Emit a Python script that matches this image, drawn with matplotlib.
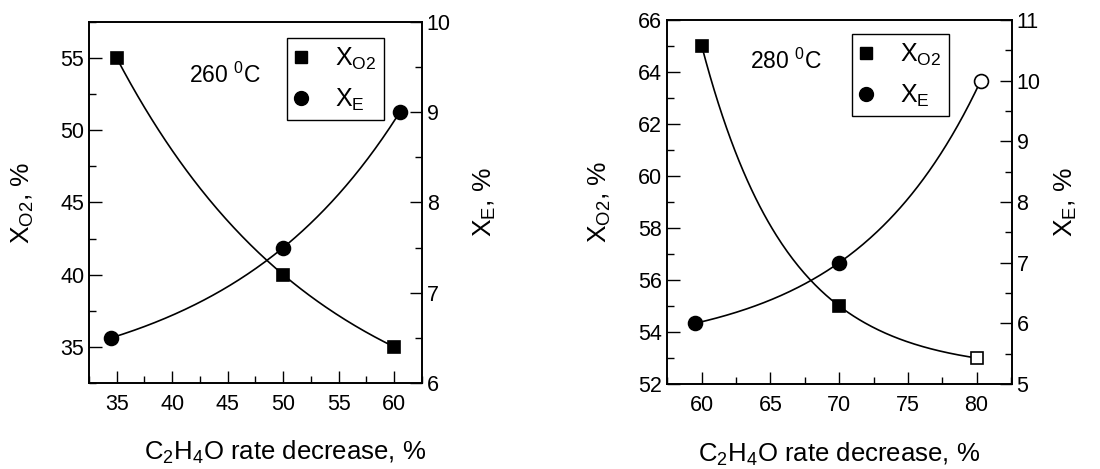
import numpy as np
import matplotlib
matplotlib.use("Agg")
import matplotlib.pyplot as plt
from matplotlib.ticker import MultipleLocator
from matplotlib.lines import Line2D

plt.rcParams['font.family'] = ['Liberation Sans', 'DejaVu Sans']
plt.rcParams['mathtext.fontset'] = 'custom'
plt.rcParams['mathtext.rm'] = 'Liberation Sans'
plt.rcParams['mathtext.it'] = 'Liberation Sans'

# ---- data: 260 C panel ----
x_o2_260 = [35, 50, 60]
y_o2_260 = [55, 40, 35]
x_e_260 = [34.5, 50, 60.5]
y_e_260 = [6.5, 7.5, 9.0]

# ---- data: 280 C panel ----
x_o2_280 = [60, 70, 80]
y_o2_280 = [65, 55, 53]
o2_280_open = [False, False, True]
x_e_280 = [59.5, 70, 80.3]
y_e_280 = [6.0, 7.0, 10.0]
e_280_open = [False, False, True]

temps = ["260 $^{0}$C", "280 $^{0}$C"]
xlabel = "C$_2$H$_4$O rate decrease, %"
ylabel_l = "X$_{\\mathregular{O2}}$, %"
ylabel_r = "X$_{\\mathregular{E}}$, %"


def fit_exp(x, y):
    x = np.asarray(x, float); y = np.asarray(y, float)
    best = None
    for k in np.linspace(-0.5, 0.5, 20001):
        if abs(k) < 1e-6:
            continue
        A = np.column_stack([np.ones_like(x), np.exp(k * (x - x.mean()))])
        coef, *_ = np.linalg.lstsq(A, y, rcond=None)
        r = np.sum((A @ coef - y) ** 2)
        if best is None or r < best[0]:
            best = (r, k, coef)
    _, k, coef = best
    xs = np.linspace(x.min(), x.max(), 200)
    return xs, coef[0] + coef[1] * np.exp(k * (xs - x.mean()))


def style(ax):
    ax.tick_params(direction='in', which='both', labelsize=15.5, top=False)
    ax.tick_params(which='major', length=9, width=1)
    ax.tick_params(which='minor', length=5, width=1)
    for s in ax.spines.values():
        s.set_linewidth(1.2)


fig = plt.figure(figsize=(11, 4.69), dpi=100)
axes_pos = [[0.0809, 0.1834, 0.3027, 0.7697], [0.6061, 0.1812, 0.3136, 0.7761]]
panels = [
    dict(xo=x_o2_260, yo=y_o2_260, oo=[False]*3, xe=x_e_260, ye=y_e_260, eo=[False]*3,
         xlim=(32.5, 62.5), ylim=(32.5, 57.5), y2lim=(6, 10), xmaj=5, xmin=2.5,
         ymaj=5, ymin=2.5, y2maj=1, y2min=0.5, tpos=(41.5, 53.8),
         leg=(0.595, 0.956), ylx=-0.16, y2lx=1.15, xlx=0.589),
    dict(xo=x_o2_280, yo=y_o2_280, oo=o2_280_open, xe=x_e_280, ye=y_e_280, eo=e_280_open,
         xlim=(57.45, 82.55), ylim=(52, 66), y2lim=(5, 11), xmaj=5, xmin=2.5,
         ymaj=2, ymin=1, y2maj=1, y2min=0.5, tpos=(63.5, 64.4),
         leg=(0.537, 0.962), ylx=-0.155, y2lx=1.12, xlx=0.5),
]

for i, p in enumerate(panels):
    ax = fig.add_axes(axes_pos[i])
    ax2 = ax.twinx()
    xs, ys = fit_exp(p['xo'], p['yo'])
    ax.plot(xs, ys, color='black', lw=1.2)
    xs2, ys2 = fit_exp(p['xe'], p['ye'])
    ax2.plot(xs2, ys2, color='black', lw=1.2)
    for xv, yv, op in zip(p['xo'], p['yo'], p['oo']):
        ax.plot(xv, yv, 's', ms=9, mec='black', mew=1.2,
                mfc='white' if op else 'black', zorder=5)
    for xv, yv, op in zip(p['xe'], p['ye'], p['eo']):
        ax2.plot(xv, yv, 'o', ms=10, mec='black', mew=1.2,
                 mfc='white' if op else 'black', zorder=5)
    ax.set_xlim(*p['xlim']); ax.set_ylim(*p['ylim']); ax2.set_ylim(*p['y2lim'])
    ax.xaxis.set_major_locator(MultipleLocator(p['xmaj']))
    ax.xaxis.set_minor_locator(MultipleLocator(p['xmin']))
    ax.yaxis.set_major_locator(MultipleLocator(p['ymaj']))
    ax.yaxis.set_minor_locator(MultipleLocator(p['ymin']))
    ax2.yaxis.set_major_locator(MultipleLocator(p['y2maj']))
    ax2.yaxis.set_minor_locator(MultipleLocator(p['y2min']))
    style(ax); style(ax2)
    ax.tick_params(axis='y', right=False, which='both')
    ax.tick_params(axis='x', pad=8)
    ax.set_xlabel(xlabel, fontsize=18.5)
    ax.xaxis.set_label_coords(p['xlx'], -0.155)
    ax.set_ylabel(ylabel_l, fontsize=19)
    ax.yaxis.set_label_coords(p['ylx'], 0.5)
    ax2.set_ylabel(ylabel_r, fontsize=19, rotation=90)
    ax2.yaxis.set_label_coords(p['y2lx'], 0.5)
    ax.text(p['tpos'][0], p['tpos'][1], temps[i], fontsize=16.5, ha='left', va='center')
    handles = [Line2D([], [], marker='s', ls='none', ms=9, color='black'),
               Line2D([], [], marker='o', ls='none', ms=10, color='black')]
    leg = ax2.legend(handles, ["X$_{\\mathregular{O2}}$", "X$_{\\mathregular{E}}$"],
                     loc='upper left', bbox_to_anchor=p['leg'], fontsize=18,
                     frameon=True, fancybox=False, edgecolor='black', framealpha=1,
                     handletextpad=1.12, handlelength=0.5, labelspacing=0.6,
                     borderpad=0.3, borderaxespad=0)
    leg.get_frame().set_linewidth(1.0)

fig.savefig("out.png", dpi=100)
